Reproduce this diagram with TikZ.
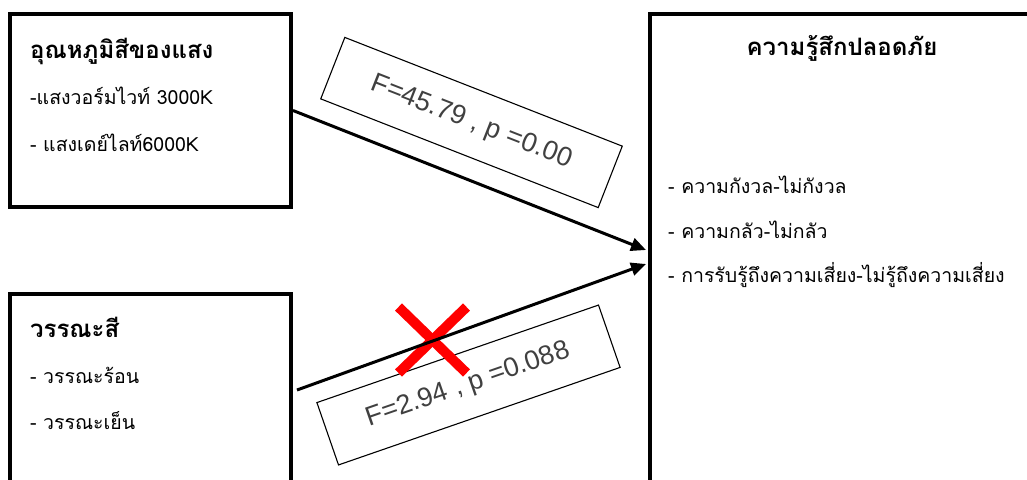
\documentclass[tikz,border=0pt]{standalone}
\usepackage{fontspec}
\newfontfamily\thai[Script=Thai]{Loma}
\newfontfamily\labfont{Liberation Sans}
\usetikzlibrary{arrows.meta}
\begin{document}
\begin{tikzpicture}[x=1pt,y=-1pt,
  box/.style={draw, line width=4pt, inner sep=0pt, anchor=north west},
  ttl/.style={anchor=base west, inner sep=0pt, font=\thai\fontsize{24}{28}\selectfont\bfseries},
  itm/.style={anchor=base west, inner sep=0pt, font=\thai\fontsize{19.5}{23}\selectfont},
  statlab/.style={draw, line width=1.1pt, fill=white, minimum width=298pt, minimum height=66pt, inner sep=0pt, text=black!75, font=\labfont\fontsize{27}{30}\selectfont},
  conn/.style={line width=3pt, -{Triangle[length=15pt,width=13pt]}},
  cross/.style={red, line width=10pt}
]
\useasboundingbox (0,0) rectangle (1027,479);
\clip (0,0) rectangle (1027,479);
\fill[white] (0,0) rectangle (1027,479);
% boxes
\node[box, minimum width=281pt, minimum height=193pt] (b1) at (8,12) {};
\node[box, minimum width=281pt, minimum height=210pt] (b2) at (8,292) {};
\node[box, minimum width=400pt, minimum height=490pt] (b3) at (648,12) {};
% texts box 1
\node[ttl] (t1) at (30,58) {อุณหภูมิสีของแสง};
\node[itm] (t1a) at (30,104) {-แสงวอร์มไวท์ 3000K};
\node[itm] (t1b) at (30,151) {- แสงเดย์ไลท์6000K};
% texts box 2
\node[ttl] (t2) at (30,337) {วรรณะสี};
\node[itm] (t2a) at (30,383) {- วรรณะร้อน};
\node[itm] (t2b) at (30,429) {- วรรณะเย็น};
% texts box 3
\node[ttl, anchor=base] (t3) at (842,55) {ความรู้สึกปลอดภัย};
\node[itm] (t3a) at (668,193) {- ความกังวล-ไม่กังวล};
\node[itm] (t3b) at (668,238) {- ความกลัว-ไม่กลัว};
\node[itm] (t3c) at (668,282) {- การรับรู้ถึงความเสี่ยง-ไม่รู้ถึงความเสี่ยง};
% statistic labels
\node[statlab, rotate=-21.4] (l1) at (471.5,122.5) {F=45.79 , p =0.00};
\node[statlab, rotate=19.1] (l2) at (468.5,385) {F=2.94 , p =0.088};
% red cross
\coordinate (xc) at (432.5,340);
\draw[cross] ([shift={(-34,-33)}]xc) -- ([shift={(34,33)}]xc);
\draw[cross] ([shift={(34,-33)}]xc) -- ([shift={(-34,33)}]xc);
% connectors
\draw[conn] (b1.east) -- ([yshift=9pt,xshift=-2pt]b3.west);
\draw[conn] ([yshift=9pt,xshift=4pt]b2.east) -- ([yshift=-5pt,xshift=-2pt]b3.west);
\end{tikzpicture}
\end{document}
